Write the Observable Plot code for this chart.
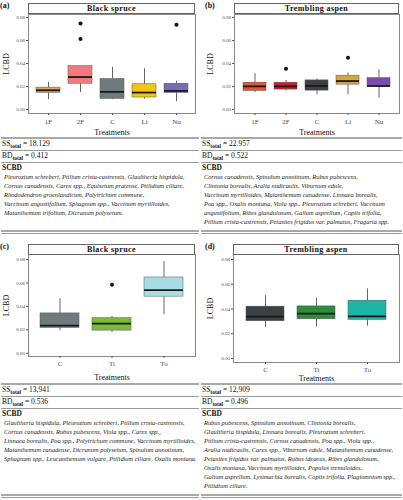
<!DOCTYPE html>
<html><head><meta charset="utf-8">
<script src="https://cdn.jsdelivr.net/npm/d3@7"></script>
<script src="https://cdn.jsdelivr.net/npm/@observablehq/plot@0.6"></script>
<style>
body{margin:0;width:403px;height:500px;position:relative;background:#fff;font-family:"Liberation Serif",serif;overflow:hidden;color:#111}
.tag{position:absolute;font-weight:bold;font-size:8px;line-height:9px}
.strip{position:absolute;border:1px solid #666;background:#fcfcfc;font-weight:bold;font-size:8px;letter-spacing:0.4px;text-align:center;line-height:9px;box-sizing:border-box}
.rule{position:absolute;height:0;border-top:1px solid #9a9a9a}
.thick{border-top:2px solid #a8a8a8}
.stat{position:absolute;font-size:7.5px;white-space:nowrap;line-height:8px}
.stat sub{font-size:5.5px;font-weight:bold;vertical-align:-2px}
.hd{position:absolute;font-size:7.5px;font-weight:bold;line-height:8px}
.sp{position:absolute;font-style:italic;font-size:6.4px;line-height:9px;color:#222;white-space:nowrap}
.chart{position:absolute}
</style></head><body>
<script>
// ---------- data ----------
const treat5 = ["1F","2F","C","Li","Nu"];
const treat3 = ["C","Ti","To"];
const yTicks = [0, 0.02, 0.04, 0.06, 0.08];

// (a) Black spruce, 5 treatments
const aLow  = [0.0086, 0.0147, 0.0086, 0.0089, 0.0066];
const aQ1   = [0.0144, 0.0224, 0.0092, 0.0104, 0.0144];
const aMed  = [0.0167, 0.0282, 0.0153, 0.0147, 0.0161];
const aQ3   = [0.0190, 0.0377, 0.0265, 0.0219, 0.0224];
const aHigh = [0.0236, 0.0377, 0.0368, 0.0354, 0.0245];
const aOutCat = ["2F","2F","Nu"];
const aOutVal = [0.0748, 0.0613, 0.0737];
const aColors = ["#E6A05A","#F07A7E","#6E7B7B","#F3C517","#7A6BB3"];

// (b) Trembling aspen, 5 treatments
const bLow  = [0.0147, 0.0158, 0.0129, 0.0129, 0.0098];
const bQ1   = [0.0161, 0.0173, 0.0164, 0.0216, 0.0201];
const bMed  = [0.0201, 0.0201, 0.0205, 0.0247, 0.0204];
const bQ3   = [0.0233, 0.0233, 0.0253, 0.0294, 0.0273];
const bHigh = [0.0311, 0.0253, 0.0265, 0.0317, 0.0345];
const bOutCat = ["2F","Li"];
const bOutVal = [0.0354, 0.0449];
const bColors = ["#E8552C","#CC1F2B","#3C4043","#D6A63A","#7A4DA8"];

// (c) Black spruce, 3 treatments
const cLow  = [0.0193, 0.0178, 0.0331];
const cQ1   = [0.0216, 0.0193, 0.0483];
const cMed  = [0.0236, 0.0253, 0.0538];
const cQ3   = [0.0340, 0.0299, 0.0647];
const cHigh = [0.0466, 0.0314, 0.0783];
const cOutCat = ["Ti"];
const cOutVal = [0.0584];
const cColors = ["#6E7B7B","#7DBA3A","#A6DDE4"];

// (d) Trembling aspen, 3 treatments
const dLow  = [0.0253, 0.0253, 0.0261];
const dQ1   = [0.0301, 0.0317, 0.0312];
const dMed  = [0.0339, 0.0363, 0.0341];
const dQ3   = [0.0419, 0.0421, 0.0467];
const dHigh = [0.0509, 0.0488, 0.0563];
const dOutCat = [];
const dOutVal = [];
const dColors = ["#3C4043","#2E8B3F","#1DB5A6"];

// stats text
const ssTotal = ["18.129","22.957","13,941","12,909"];
const bdTotal = ["0.412","0.522","0.536","0.496"];
const scbdA = [
 "Pleurozium schreberi, Ptilium crista-castrensis, Glaultheria hispidula,",
 "Cornus canadensis, Carex spp., Equisetum pratense, Ptilidium ciliare,",
 "Rhododendron groenlandicum, Polytrichum commune,",
 "Vaccinum angustifolium, Sphagnum spp., Vaccinum myrtilloides,",
 "Maianthemum trifolium, Dicranum polysetum."];
const scbdB = [
 "Cornus canadensis, Spinulum annotinum, Rubus pubescens,",
 "Clintonia borealis, Aralia nudicaulis, Viburnum edule,",
 "Vaccinum myrtilloides, Maianthemum canadense, Linnaea borealis,",
 "Poa spp., Oxalis montana, Viola spp., Pleurozium schreberi, Vaccinum",
 "angustifolium, Ribes glandulosum, Galium asprellum, Coptis trifolia,",
 "Ptilium crista-castrensis, Petasites frigidus var. palmatus, Fragaria spp."];
const scbdC = [
 "Glaultheria hispidula, Pleurozium schreberi, Ptilium crista-castrensis,",
 "Cornus canadensis, Rubus pubescens, Viola spp., Carex spp.,",
 "Linnaea  borealis, Poa spp., Polytrichum commune, Vaccinum myrtilloides,",
 "Maianthemum canadense, Dicranum polysetum, Spinulum annotinum,",
 "Sphagnum spp., Leucanthemum vulgare, Ptilidium ciliare, Oxalis montana."];
const scbdD = [
 "Rubus pubescens, Spinulum annotinum, Clintonia borealis,",
 "Glaultheria hispidula, Linnaea borealis, Pleurozium schreberi,",
 "Ptilium crista-castrensis, Cornus canadensis, Poa spp., Viola spp.,",
 "Aralia nudicaulis, Carex spp., Viburnum edule, Maianthemum canadense,",
 "Petasites frigidus var. palmatus, Rubus ideaeus, Ribes glandulosum,",
 "Oxalis montana, Vaccinum myrtilloides, Populus tremuloides,",
 "Galium asprellum, Lysimachia borealis, Coptis trifolia, Plagiomnium spp.,",
 "Ptilidium ciliare."];

// ---------- helpers ----------
function el(cls, css, html){
  const d = document.createElement("div");
  d.className = cls; d.style.cssText = css; d.innerHTML = html;
  document.body.appendChild(d); return d;
}

function boxChart(o){
  const rows = o.cats.map((c,i)=>({c, low:o.low[i], q1:o.q1[i], med:o.med[i], q3:o.q3[i], high:o.high[i]}));
  const outs = o.outCat.map((c,i)=>({c, v:o.outVal[i]}));
  const svg = Plot.plot({
    width:o.width, height:o.height,
    marginTop:o.mt, marginBottom:o.mb, marginLeft:o.ml, marginRight:o.mr,
    style:{fontFamily:"Liberation Serif", background:"transparent", overflow:"visible"},
    x:{domain:o.cats, paddingInner:0.25, paddingOuter:0.225, axis:null},
    y:{domain:o.domain, axis:null},
    color:{domain:o.cats, range:o.colors},
    marks:[
      Plot.frame({stroke:"#8a8a8a"}),
      Plot.axisY({ticks:yTicks, tickFormat:d3.format(".2f"), tickSize:2, tickPadding:1.5, fontSize:5, color:"#4d4d4d", label:null}),
      Plot.axisX({tickSize:2, tickPadding:o.xpad, fontSize:7, color:"#4d4d4d", label:null}),
      Plot.ruleX(rows, {x:"c", y1:"low", y2:"q1", stroke:"#555", strokeWidth:0.9}),
      Plot.ruleX(rows, {x:"c", y1:"q3", y2:"high", stroke:"#555", strokeWidth:0.9}),
      Plot.barY(rows, {x:"c", y1:"q1", y2:"q3", fill:"c", stroke:"#555", strokeWidth:0.5}),
      Plot.tickY(rows, {x:"c", y:"med", stroke:"#1a1a1a", strokeWidth:1.8}),
      Plot.dot(outs, {x:"c", y:"v", r:2, fill:"#111", stroke:null}),
      Plot.text(["LCBD"], {text:d=>d, frameAnchor:"left", textAnchor:"middle", lineAnchor:"middle", dx:o.ldx, rotate:-90, fontSize:8, fill:"#111"}),
      Plot.text(["Treatments"], {text:d=>d, frameAnchor:"bottom", textAnchor:"middle", lineAnchor:"middle", dy:o.tdy, fontSize:8, fill:"#111"})
    ]
  });
  const wrap = document.createElement("div");
  wrap.className = "chart";
  wrap.style.left = o.left+"px"; wrap.style.top = o.top+"px";
  wrap.appendChild(svg);
  document.body.appendChild(wrap);
}

function statsBlock(o){
  const L = o.left, W = o.width;
  el("rule thick", `left:${L+1}px;top:${o.r0}px;width:${W-2}px`, "");
  el("stat", `left:${L+2}px;top:${o.r0+3}px`, `SS<sub>total</sub> = ${o.ss}`);
  el("rule", `left:${L+1}px;top:${o.r0+13}px;width:${W-2}px`, "");
  el("stat", `left:${L+2}px;top:${o.r0+15}px`, `BD<sub>total</sub> = ${o.bd}`);
  el("rule", `left:${L+1}px;top:${o.r0+25}px;width:${W-2}px`, "");
  el("hd", `left:${L+2}px;top:${o.r0+27}px`, "SCBD");
  o.lines.forEach((t,i)=>el("sp", `left:${L+4}px;top:${o.r0+35+9*i}px`, t));
  el("rule thick", `left:${L+1}px;top:${o.rEnd}px;width:${W-2}px`, "");
  el("rule", `left:${L+1}px;top:${o.rEnd+3}px;width:${W-2}px`, "");
}

// ---------- charts ----------
boxChart({cats:treat5, low:aLow, q1:aQ1, med:aMed, q3:aQ3, high:aHigh, outCat:aOutCat, outVal:aOutVal, colors:aColors,
  left:0, top:0, width:200, height:135, ml:28, mr:5, mt:14, mb:22, domain:[-0.0035,0.0826], xpad:4, ldx:-22, tdy:19});
boxChart({cats:treat5, low:bLow, q1:bQ1, med:bMed, q3:bQ3, high:bHigh, outCat:bOutCat, outVal:bOutVal, colors:bColors,
  left:200, top:0, width:203, height:135, ml:34, mr:4, mt:14, mb:22, domain:[-0.0035,0.0826], xpad:4, ldx:-24, tdy:19});
boxChart({cats:treat3, low:cLow, q1:cQ1, med:cMed, q3:cQ3, high:cHigh, outCat:cOutCat, outVal:cOutVal, colors:cColors,
  left:0, top:240, width:200, height:145, ml:28, mr:5, mt:14, mb:29, domain:[-0.0028,0.0843], xpad:3, ldx:-22, tdy:21});
boxChart({cats:treat3, low:dLow, q1:dQ1, med:dMed, q3:dQ3, high:dHigh, outCat:dOutCat, outVal:dOutVal, colors:dColors,
  left:200, top:240, width:203, height:145, ml:33, mr:4, mt:14, mb:23, domain:[-0.0032,0.084], xpad:3, ldx:-23, tdy:16});

// strips and panel tags
el("strip", "left:28px;top:3px;width:167px;height:11px", "Black spruce");
el("strip", "left:234px;top:3px;width:165px;height:11px", "Trembling aspen");
el("strip", "left:28px;top:244px;width:167px;height:11px", "Black spruce");
el("strip", "left:233px;top:244px;width:166px;height:11px", "Trembling aspen");
el("tag", "left:0px;top:1px", "(a)");
el("tag", "left:205px;top:1px", "(b)");
el("tag", "left:0px;top:242px", "(c)");
el("tag", "left:205px;top:242px", "(d)");

// stats tables
statsBlock({left:0, width:200, r0:137, rEnd:230, ss:ssTotal[0], bd:bdTotal[0], lines:scbdA});
statsBlock({left:200, width:203, r0:137, rEnd:230, ss:ssTotal[1], bd:bdTotal[1], lines:scbdB});
statsBlock({left:0, width:200, r0:383, rEnd:494, ss:ssTotal[2], bd:bdTotal[2], lines:scbdC});
statsBlock({left:200, width:203, r0:383, rEnd:494, ss:ssTotal[3], bd:bdTotal[3], lines:scbdD});
</script>
</body></html>
